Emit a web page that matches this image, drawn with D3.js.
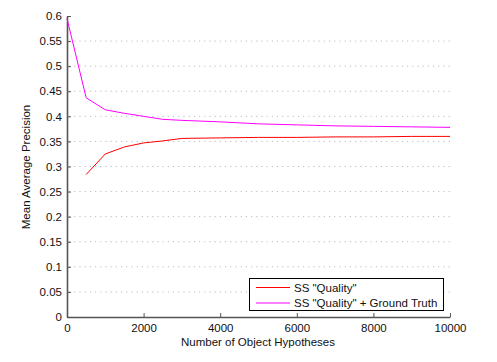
<!DOCTYPE html>
<html>
<head>
<meta charset="UTF-8" />
<title>Mean Average Precision</title>
<script src="https://d3js.org/d3.v7.min.js"></script>
<style>
    body { margin: 0; background: #fff; }
    text { font-family: "Liberation Sans", Arial, sans-serif; fill: #111; }
    .grid line { stroke: #bbb; stroke-dasharray: 1.2 4; }
</style>
</head>
<body>
<svg id="chart" width="497" height="362"></svg>
<script>
    // values
    var qualityX = [500, 1000, 1500, 2000, 2500, 3000, 4000, 5000, 6000, 7000, 8000, 9000, 10000];
    var qualityY = [0.284, 0.325, 0.339, 0.347, 0.351, 0.356, 0.357, 0.358, 0.358, 0.359, 0.359, 0.36, 0.36];
    var truthX = [0, 500, 1000, 1500, 2000, 2500, 3000, 4000, 5000, 6000, 7000, 8000, 9000, 10000];
    var truthY = [0.595, 0.437, 0.413, 0.406, 0.4, 0.394, 0.392, 0.389, 0.385, 0.383, 0.381, 0.38, 0.379, 0.378];
    var xTicks = [0, 2000, 4000, 6000, 8000, 10000];
    var yTicks = [0, 0.05, 0.1, 0.15, 0.2, 0.25, 0.3, 0.35, 0.4, 0.45, 0.5, 0.55, 0.6];
    var seriesNames = ['SS "Quality"', 'SS "Quality" + Ground Truth'];
    var seriesColors = ['#ff0000', '#ff00ff'];

    var svg = d3.select('#chart');
    var x = d3.scaleLinear().domain([0, 10000]).range([67, 450]);
    var y = d3.scaleLinear().domain([0, 0.6]).range([317, 16]);

    // dotted horizontal grid
    svg.append('g').attr('class', 'grid')
        .selectAll('line')
        .data(yTicks.filter(function (d) { return d > 0 && d < 0.6; }))
        .enter().append('line')
        .attr('x1', x(0) + 2).attr('x2', x(10000))
        .attr('y1', function (d) { return y(d); })
        .attr('y2', function (d) { return y(d); });

    var xAxis = svg.append('g')
        .attr('transform', 'translate(0,' + y(0) + ')')
        .call(d3.axisBottom(x).tickValues(xTicks).tickSizeInner(-4).tickSizeOuter(0).tickPadding(7)
            .tickFormat(d3.format('d')));
    var yAxis = svg.append('g')
        .attr('transform', 'translate(' + x(0) + ',0)')
        .call(d3.axisLeft(y).tickValues(yTicks).tickSizeInner(-4).tickSizeOuter(0).tickPadding(5)
            .tickFormat(function (d) { return String(+d.toFixed(2)); }));
    [xAxis, yAxis].forEach(function (a) {
        a.select('.domain').attr('stroke', '#555').attr('stroke-width', 1.6);
        a.selectAll('.tick line').attr('stroke', '#555').attr('stroke-width', 1);
        a.selectAll('.tick text').attr('font-size', 11.5).attr('fill', '#111')
            .attr('font-family', '"Liberation Sans", Arial, sans-serif');
    });

    var line = d3.line()
        .x(function (d) { return x(d[0]); })
        .y(function (d) { return y(d[1]); });

    svg.append('path')
        .datum(d3.zip(qualityX, qualityY))
        .attr('d', line).attr('fill', 'none')
        .attr('stroke', seriesColors[0]).attr('stroke-width', 1);
    svg.append('path')
        .datum(d3.zip(truthX, truthY))
        .attr('d', line).attr('fill', 'none')
        .attr('stroke', seriesColors[1]).attr('stroke-width', 1);

    // axis labels
    svg.append('text')
        .attr('x', 258).attr('y', 346)
        .attr('text-anchor', 'middle').attr('font-size', 11.5)
        .text('Number of Object Hypotheses');
    svg.append('text')
        .attr('transform', 'translate(30,167) rotate(-90)')
        .attr('text-anchor', 'middle').attr('font-size', 11.5)
        .text('Mean Average Precision');

    // legend
    var legend = svg.append('g');
    legend.append('rect')
        .attr('x', 249.5).attr('y', 278.5).attr('width', 194).attr('height', 32)
        .attr('fill', '#fff').attr('stroke', '#000').attr('stroke-width', 1);
    seriesNames.forEach(function (name, i) {
        var ly = 287.5 + i * 15.5;
        legend.append('line')
            .attr('x1', 256).attr('x2', 290).attr('y1', ly).attr('y2', ly)
            .attr('stroke', seriesColors[i]).attr('stroke-width', 1);
        legend.append('text')
            .attr('x', 294).attr('y', ly + 4)
            .attr('font-size', 11.5)
            .text(name);
    });
</script>
</body>
</html>
